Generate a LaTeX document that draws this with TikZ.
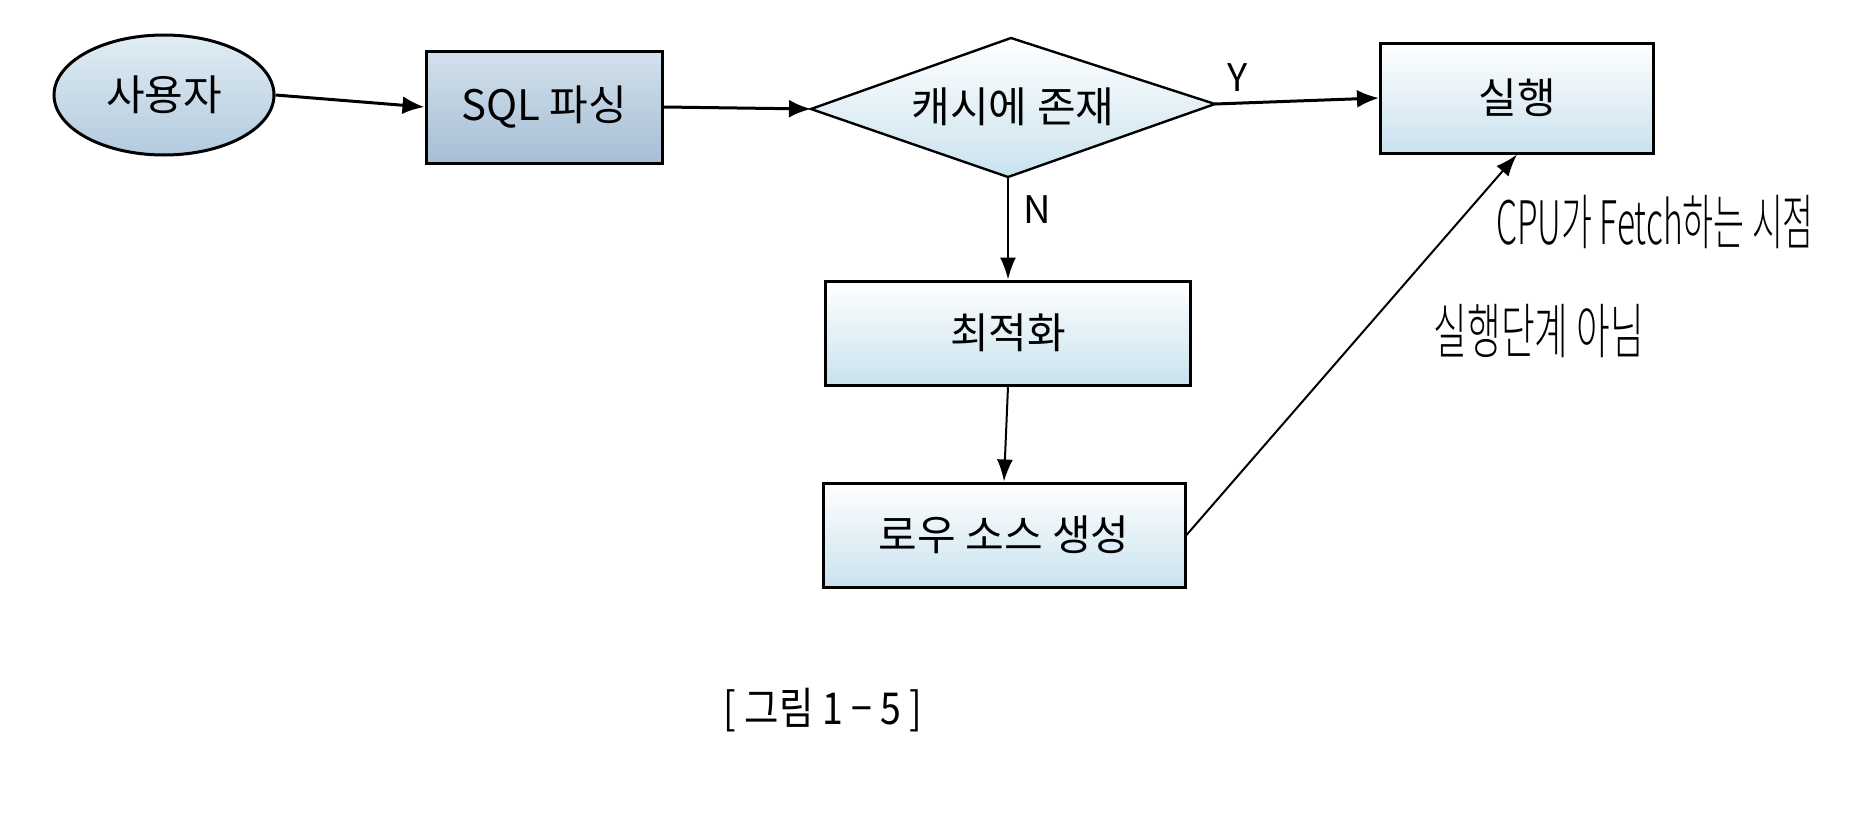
\documentclass[tikz,border=0pt]{standalone}
\usepackage{fontspec}
\usepackage{graphicx}
\setmainfont{Noto Sans CJK KR}
\newfontfamily\hand{Noto Sans CJK KR Light}
\usetikzlibrary{shapes.geometric,arrows.meta}
\definecolor{sqltop}{HTML}{D3E1EC}
\definecolor{sqlbot}{HTML}{A6BED5}
\definecolor{elltop}{HTML}{E0EDF4}
\definecolor{ellbot}{HTML}{B3CADE}
\definecolor{boxtop}{HTML}{FFFFFF}
\definecolor{boxbot}{HTML}{C9E2EE}
\tikzset{
  flowbox/.style={draw=black, line width=1.5pt, rectangle, inner sep=0pt,
    top color=boxtop, bottom color=boxbot, font=\fontsize{21}{24}\selectfont},
  sqlbox/.style={flowbox, top color=sqltop, bottom color=sqlbot},
  userell/.style={draw=black, line width=1.5pt, ellipse, inner sep=0pt,
    top color=elltop, bottom color=ellbot, font=\fontsize{21}{24}\selectfont},
  decideshape/.style={draw=black, line width=1.2pt, line join=miter,
    top color=boxtop, bottom color=boxbot},
  decidetext/.style={inner sep=0pt, font=\fontsize{21}{24}\selectfont},
  flowarrow/.style={line width=1.5pt, -{Latex[length=11pt,width=9pt]}},
  thinarrow/.style={line width=1pt, -{Latex[length=11pt,width=8pt]}},
  lbl/.style={font=\fontsize{19}{21}\selectfont, inner sep=0pt},
  handnote/.style={font=\hand\fontsize{30}{32}\selectfont, inner sep=0pt},
  caption/.style={font=\fontsize{22}{24}\selectfont, inner sep=0pt}
}
\begin{document}
\begin{tikzpicture}[x=0.5pt,y=-0.5pt]
\useasboundingbox (0,0) rectangle (1870,835);
\fill[white] (0,0) rectangle (1870,835);

\node[userell, minimum width=110pt, minimum height=60pt] (user) at (164,95) {사용자};
\node[sqlbox, minimum width=118pt, minimum height=56pt] (sql) at (544,107) {SQL 파싱};

% decision diamond
\coordinate (cacheN) at (1011,38);
\coordinate (cacheE) at (1215,104);
\coordinate (cacheS) at (1008,177);
\coordinate (cacheW) at (811,109);
\path[decideshape] (cacheN) -- (cacheE) -- (cacheS) -- (cacheW) -- cycle;
\node[decidetext] (cache) at (1013,107) {캐시에 존재};

\node[flowbox, minimum width=136.5pt, minimum height=55pt] (run) at (1517,98) {실행};
\node[flowbox, minimum width=182.5pt, minimum height=52pt] (opt) at (1008,333) {최적화};
\node[flowbox, minimum width=181pt, minimum height=52pt] (row) at (1004,535) {로우 소스 생성};

\draw[flowarrow] (user.east) -- (sql.west);
\draw[flowarrow] (sql.east) -- (cacheW);
\draw[flowarrow] (cacheE) -- (run.west);
\draw[thinarrow] (cacheS) -- (opt.north);
\draw[thinarrow] (opt.south) -- (row.north);
\draw[thinarrow] (row.east) -- (run.south);

\node[lbl] (ylbl) at (1238,78) {Y};
\node[lbl] (nlbl) at (1037,210) {N};

\node[handnote] (note1) at (1655,222) {\scalebox{0.56}[1]{CPU가 Fetch하는 시점}};
\node[handnote] (note2) at (1539,331) {\scalebox{0.61}[1]{실행단계 아님}};

\node[caption] (cap) at (823,710) {\scalebox{0.85}[1]{[ 그림 1 − 5 ]}};
\end{tikzpicture}
\end{document}
